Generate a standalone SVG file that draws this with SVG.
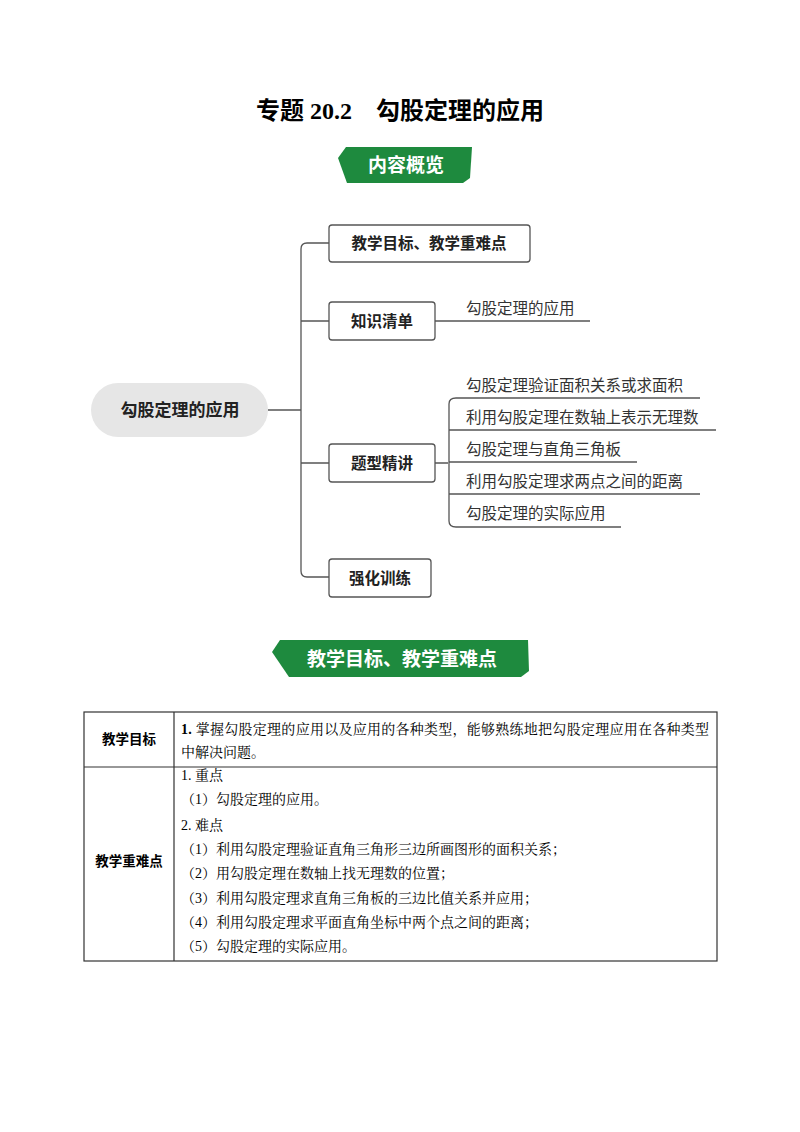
<svg xmlns="http://www.w3.org/2000/svg" width="800" height="1132" viewBox="0 0 800 1132">
<style>
.t{font-family:"Noto Sans CJK SC","Noto Sans CJK JP",sans-serif}
.s{font-family:"Liberation Serif","Noto Serif CJK SC","Noto Sans CJK SC",serif;font-size:14px;fill:#000}
.b{font-weight:bold}
.box{fill:#fff;stroke:#555;stroke-width:1.3}
.ln{fill:none;stroke:#555;stroke-width:1.3}
.ban{fill:#1e8a3e}
.bt{font-family:"Noto Sans CJK SC",sans-serif;font-weight:bold;fill:#fff;font-size:19px;text-anchor:middle}
.nt{font-size:15.5px;font-weight:bold;fill:#222;text-anchor:middle}
.ct{font-size:15.5px;fill:#333}
</style>
<rect width="800" height="1132" fill="#fff"/>
<text x="400" y="119" text-anchor="middle" class="b" style="font-family:'Liberation Serif','Noto Sans CJK SC',serif;font-size:24px">专题 20.2　勾股定理的应用</text>
<g id="banner1"><path class="ban" d="M346,147 L472,147 L470,178 L463,183 L347,183 L338,158 Z"/><text class="bt" x="406" y="172">内容概览</text></g>
<g id="connectors">
<path class="ln" d="M268,410 H301 M329,243 H307 Q301,243 301,249 V571 Q301,577 307,577 H329 M301,321 H329 M301,463 H329"/>
<path class="ln" d="M435,321 H590"/>
<path class="ln" d="M435,463 H448 M700,398 H456 Q449,398 449,404 V521 Q449,527 456,527 H621 M449,430 H716 M449,494 H700 M449,462 H637"/>
</g>
<g id="root"><rect x="91" y="383" width="177" height="54" rx="27" fill="#e6e6e6"/><text class="t nt" x="180" y="416" style="font-size:17px">勾股定理的应用</text></g>
<g id="n1"><rect class="box" x="329" y="225" width="201" height="37" rx="3"/><text class="t nt" x="429" y="249">教学目标、教学重难点</text></g>
<g id="n2"><rect class="box" x="329" y="302" width="106" height="38" rx="3"/><text class="t nt" x="382" y="327">知识清单</text></g>
<g id="n3"><rect class="box" x="329" y="444" width="106" height="38" rx="3"/><text class="t nt" x="382" y="469">题型精讲</text></g>
<g id="n4"><rect class="box" x="329" y="559" width="102" height="38" rx="3"/><text class="t nt" x="380" y="584">强化训练</text></g>
<g id="c1"><text class="t ct" x="466" y="314">勾股定理的应用</text></g>
<g id="c2"><text class="t ct" x="466" y="391">勾股定理验证面积关系或求面积</text></g>
<g id="c3"><text class="t ct" x="466" y="423">利用勾股定理在数轴上表示无理数</text></g>
<g id="c4"><text class="t ct" x="466" y="455">勾股定理与直角三角板</text></g>
<g id="c5"><text class="t ct" x="466" y="487">利用勾股定理求两点之间的距离</text></g>
<g id="c6"><text class="t ct" x="466" y="519">勾股定理的实际应用</text></g>
<g id="banner2"><path class="ban" d="M280,640 L528,640 L529,671 L521,677 L289,677 L272,652 Z"/><text class="bt" x="402" y="666">教学目标、教学重难点</text></g>
<g id="table" fill="none" stroke="#333" stroke-width="1.2">
<rect x="84" y="712" width="633" height="249"/>
<path d="M174,712 V961 M84,767 H717"/>
</g>
<g id="tabletext">
<text class="t b" x="129" y="744" text-anchor="middle" style="font-size:13.5px">教学目标</text>
<text class="t b" x="129" y="866" text-anchor="middle" style="font-size:13.5px">教学重难点</text>
<text class="s" x="181" y="734" textLength="528" lengthAdjust="spacing"><tspan font-weight="bold">1.</tspan> 掌握勾股定理的应用以及应用的各种类型，能够熟练地把勾股定理应用在各种类型</text>
<text class="s" x="181" y="757">中解决问题。</text>
<text class="s" x="181" y="780">1. 重点</text>
<text class="s" x="181" y="804">（1）勾股定理的应用。</text>
<text class="s" x="181" y="830">2. 难点</text>
<text class="s" x="181" y="854">（1）利用勾股定理验证直角三角形三边所画图形的面积关系；</text>
<text class="s" x="181" y="878">（2）用勾股定理在数轴上找无理数的位置；</text>
<text class="s" x="181" y="903">（3）利用勾股定理求直角三角板的三边比值关系并应用；</text>
<text class="s" x="181" y="927">（4）利用勾股定理求平面直角坐标中两个点之间的距离；</text>
<text class="s" x="181" y="951">（5）勾股定理的实际应用。</text>
</g>
</svg>
